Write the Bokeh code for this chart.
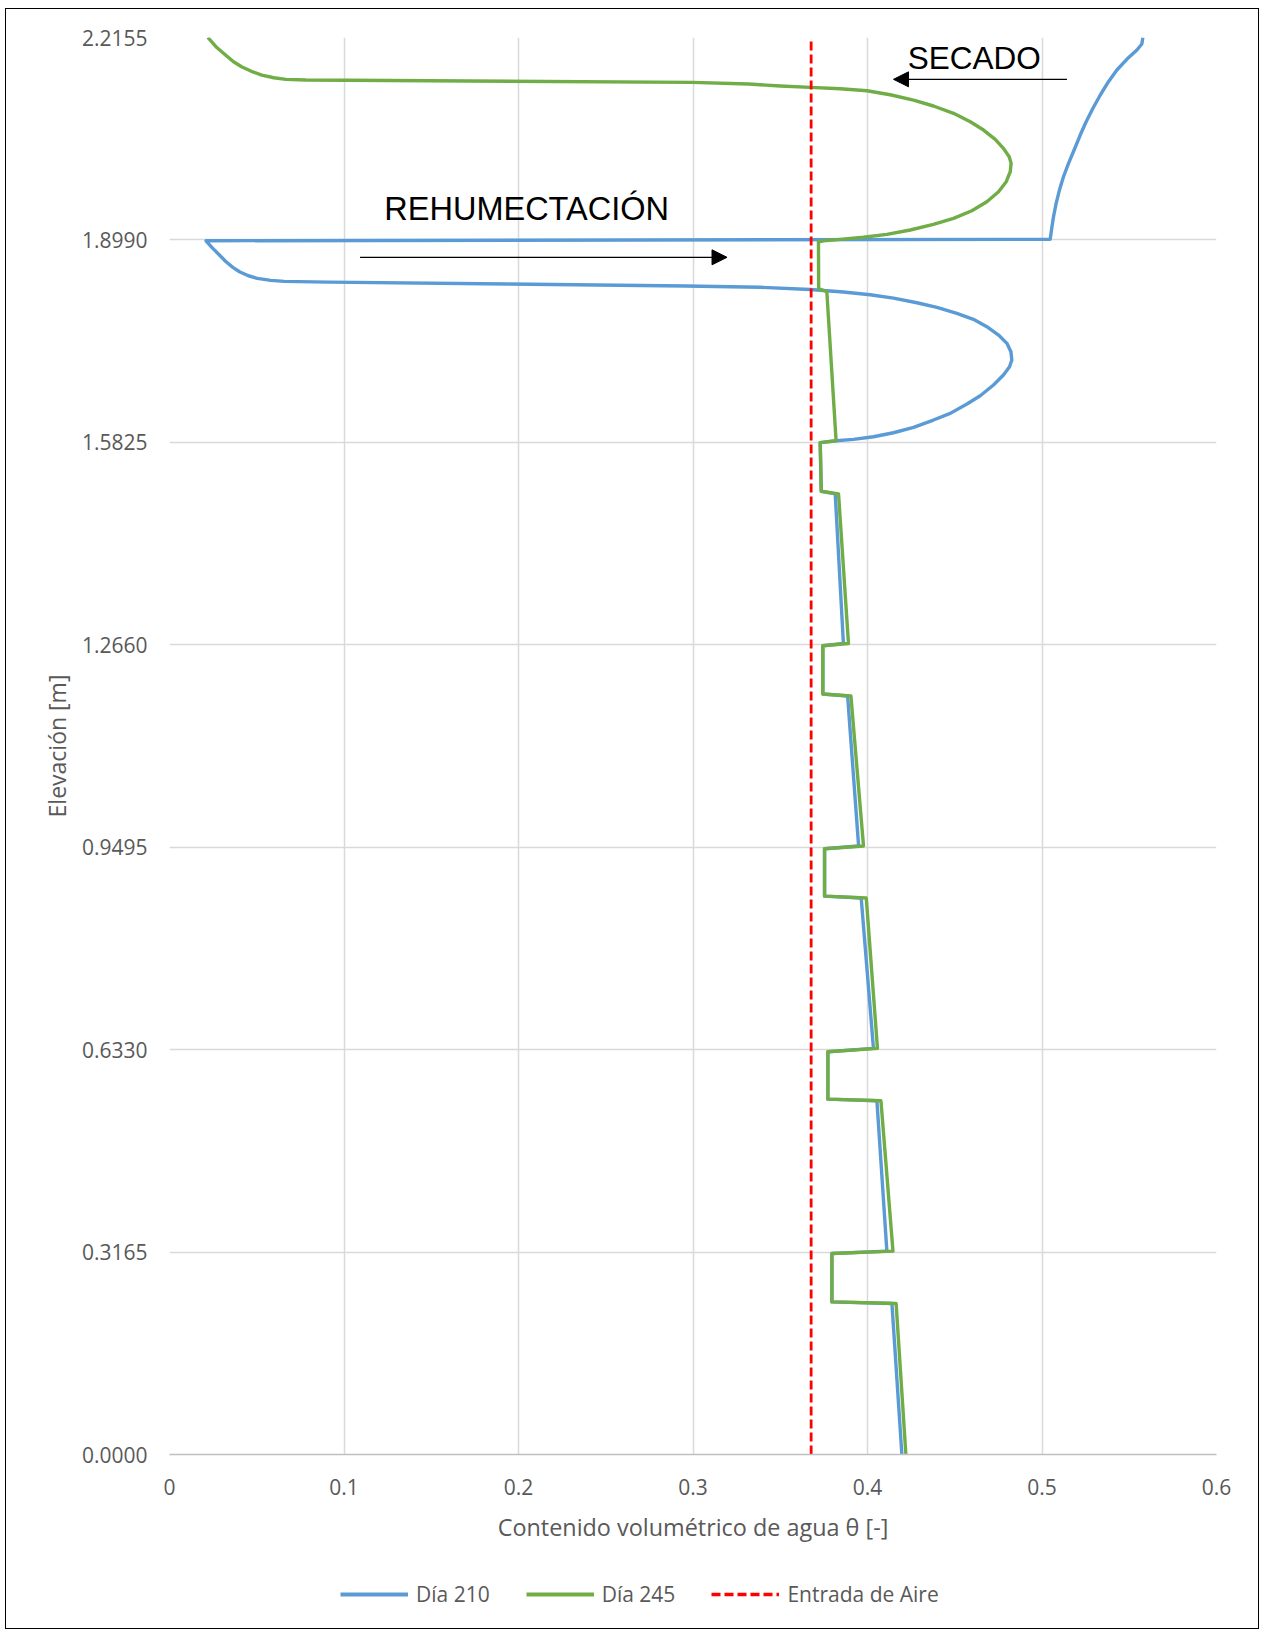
from bokeh.plotting import figure
from bokeh.models import (FixedTicker, Range1d, Legend, LegendItem, Label, Arrow,
                          NormalHead, ColumnDataSource, Column)
from bokeh.embed import file_html
from bokeh.resources import INLINE

# ---------------- data ----------------
# Día 210 (blue)
theta_210 = [0.5578, 0.5572, 0.5544, 0.5486, 0.5429, 0.5381, 0.5334, 0.5292, 0.5253, 0.5219,
             0.5184, 0.5152, 0.5123, 0.5100, 0.5081, 0.5066, 0.5057, 0.5047,
             0.0209, 0.0248, 0.0286, 0.0324, 0.0363, 0.0401, 0.0452, 0.0503, 0.0580, 0.0657,
             0.0913, 0.1935, 0.2959, 0.3385, 0.3672, 0.3862, 0.4015, 0.4149, 0.4283, 0.4398,
             0.4512, 0.4607, 0.4684, 0.4751, 0.4799, 0.4822, 0.4827, 0.4814, 0.4779, 0.4722,
             0.4646, 0.4570, 0.4474, 0.4378, 0.4264, 0.4149, 0.4034, 0.3920, 0.3821, 0.3729,
             0.3735, 0.3815, 0.3862, 0.3744, 0.3744, 0.3886, 0.3949, 0.3754, 0.3754, 0.3964, 0.4034,
             0.3773, 0.3773, 0.4054, 0.4111, 0.3796, 0.3796, 0.4140, 0.4197]
elev_210 = [2.2155, 2.2053, 2.1960, 2.1814, 2.1647, 2.1464, 2.1256, 2.1048, 2.0838, 2.0630,
            2.0396, 2.0188, 1.9978, 1.9770, 1.9562, 1.9352, 1.9196, 1.9000,
            1.8977, 1.8858, 1.8754, 1.8649, 1.8561, 1.8493, 1.8430, 1.8389, 1.8358, 1.8342,
            1.8331, 1.8300, 1.8270, 1.8249, 1.8215, 1.8175, 1.8133, 1.8081, 1.8008, 1.7936,
            1.7842, 1.7748, 1.7633, 1.7503, 1.7373, 1.7242, 1.7112, 1.7007, 1.6877, 1.6721,
            1.6554, 1.6424, 1.6278, 1.6174, 1.6059, 1.5975, 1.5913, 1.5872, 1.5850, 1.5820,
            1.5060, 1.5020, 1.2680, 1.2645, 1.1890, 1.1860, 0.9515, 0.9470, 0.8730, 0.8700, 0.6350,
            0.6296, 0.5556, 0.5530, 0.3180, 0.3143, 0.2386, 0.2360, 0.0000]

# Día 245 (green)
theta_245 = [0.0220, 0.0266, 0.0321, 0.0367, 0.0413, 0.0469, 0.0529, 0.0598, 0.0667, 0.0782,
             0.1013, 0.2996, 0.3319, 0.3500, 0.3672, 0.3844, 0.3997, 0.4130, 0.4264, 0.4378,
             0.4493, 0.4589, 0.4665, 0.4732, 0.4779, 0.4812, 0.4823, 0.4818, 0.4795, 0.4751,
             0.4684, 0.4598, 0.4493, 0.4378, 0.4245, 0.4111, 0.3977, 0.3844, 0.3748, 0.3719,
             0.3720, 0.3767, 0.3820, 0.3729,
             0.3735, 0.3834, 0.3891, 0.3744, 0.3744, 0.3905, 0.3977, 0.3754, 0.3754, 0.3993, 0.4057,
             0.3773, 0.3773, 0.4077, 0.4146, 0.3796, 0.3796, 0.4164, 0.4220]
elev_245 = [2.2155, 2.2011, 2.1881, 2.1776, 2.1698, 2.1626, 2.1568, 2.1526, 2.1501, 2.1490,
            2.1486, 2.1454, 2.1427, 2.1396, 2.1376, 2.1354, 2.1323, 2.1260, 2.1177, 2.1084,
            2.0970, 2.0838, 2.0708, 2.0563, 2.0422, 2.0291, 2.0188, 2.0056, 1.9900, 1.9744,
            1.9587, 1.9447, 1.9328, 1.9234, 1.9145, 1.9077, 1.9031, 1.8999, 1.8977, 1.8961,
            1.8230, 1.8180, 1.5850, 1.5820,
            1.5060, 1.5020, 1.2680, 1.2645, 1.1890, 1.1860, 0.9515, 0.9470, 0.8730, 0.8700, 0.6350,
            0.6296, 0.5556, 0.5530, 0.3180, 0.3143, 0.2386, 0.2360, 0.0000]

# Entrada de Aire (air entry value)
air_entry_theta = [0.3677, 0.3677]
air_entry_elev = [0.0, 2.2155]

series_names = ["Día 210", "Día 245", "Entrada de Aire"]

x_ticks = [0, 0.1, 0.2, 0.3, 0.4, 0.5, 0.6]
x_tick_labels = ["0", "0.1", "0.2", "0.3", "0.4", "0.5", "0.6"]
y_ticks = [0.0, 0.3165, 0.6330, 0.9495, 1.2660, 1.5825, 1.8990, 2.2155]
y_tick_labels = ["0.0000", "0.3165", "0.6330", "0.9495", "1.2660", "1.5825", "1.8990", "2.2155"]

# ---------------- styles ----------------
GRAY_TXT = "#595959"
FONT = "Open Sans"
BLUE, GREEN, RED = "#5B9BD5", "#70AD47", "#FF0000"
W = 1252

# ---------------- main chart ----------------
p = figure(width=W, height=1551, output_backend="svg", toolbar_location=None,
           x_range=Range1d(0, 0.6), y_range=Range1d(0, 2.2155),
           min_border_left=163, min_border_right=42, min_border_top=28, min_border_bottom=106)
p.outline_line_color = None
p.background_fill_color = "white"
p.border_fill_color = "white"

p.xaxis.ticker = FixedTicker(ticks=x_ticks)
p.yaxis.ticker = FixedTicker(ticks=y_ticks)
p.xaxis.major_label_overrides = dict(zip(x_ticks, x_tick_labels))
p.yaxis.major_label_overrides = dict(zip(y_ticks, y_tick_labels))

for ax in (p.xaxis[0], p.yaxis[0]):
    ax.major_tick_line_color = None
    ax.minor_tick_line_color = None
    ax.major_tick_out = 0
    ax.major_tick_in = 0
    ax.minor_tick_out = 0
    ax.major_label_text_font = FONT
    ax.major_label_text_font_size = "21px"
    ax.major_label_text_color = GRAY_TXT
    ax.axis_label_text_font = FONT
    ax.axis_label_text_font_style = "normal"
    ax.axis_label_text_color = GRAY_TXT

p.xaxis.axis_label_text_font_size = "23.4px"
p.yaxis.axis_label_text_font_size = "23px"
p.xaxis.axis_line_color = "#BFBFBF"
p.xaxis.axis_line_width = 1.5
p.yaxis.axis_line_color = None
p.xaxis.major_label_standoff = 24
p.yaxis.major_label_standoff = 22
p.xaxis.axis_label_standoff = 13
p.yaxis.axis_label_standoff = 6
p.xaxis.axis_label = "Contenido volumétrico de agua θ [-]"
p.yaxis.axis_label = "Elevación [m]"

p.xgrid.grid_line_color = "#D9D9D9"
p.ygrid.grid_line_color = "#D9D9D9"
p.xgrid.grid_line_width = 1.5
p.ygrid.grid_line_width = 1.5

src210 = ColumnDataSource(dict(x=theta_210, y=elev_210))
src245 = ColumnDataSource(dict(x=theta_245, y=elev_245))
srcair = ColumnDataSource(dict(x=air_entry_theta, y=air_entry_elev))

p.line("x", "y", source=src210, line_color=BLUE, line_width=3.4, line_join="round")
p.line("x", "y", source=src245, line_color=GREEN, line_width=3.4, line_join="round")
p.line("x", "y", source=srcair, line_color=RED, line_width=2.8, line_dash="9 4")

# annotations
p.add_layout(Label(x=0.1231, y=1.9470, text="REHUMECTACIÓN", text_font="Liberation Sans",
                   text_font_size="32.5px", text_color="black", text_align="left",
                   text_baseline="alphabetic"))
p.add_layout(Label(x=0.4231, y=2.1831, text="SECADO", text_font="Liberation Sans",
                   text_font_size="31.5px", text_color="black", text_align="left",
                   text_baseline="alphabetic"))
p.add_layout(Arrow(end=NormalHead(size=15, fill_color="black", line_color="black"),
                   x_start=0.1092, y_start=1.8718, x_end=0.3195, y_end=1.8718,
                   line_color="black", line_width=1.3))
p.add_layout(Arrow(end=NormalHead(size=15, fill_color="black", line_color="black"),
                   x_start=0.5143, y_start=2.1501, x_end=0.4149, y_end=2.1501,
                   line_color="black", line_width=1.3))

# ---------------- legend strip ----------------
# the series are drawn again here only as legend proxies; the ranges keep them out of view
pl = figure(width=W, height=68, output_backend="svg", toolbar_location=None,
            x_range=Range1d(5, 6), y_range=Range1d(5, 6),
            min_border_left=0, min_border_right=0, min_border_top=0, min_border_bottom=0)
pl.axis.visible = False
pl.grid.visible = False
pl.outline_line_color = None
pl.background_fill_color = "white"
pl.border_fill_color = "white"

l210 = pl.line("x", "y", source=src210, line_color=BLUE, line_width=3.8)
l245 = pl.line("x", "y", source=src245, line_color=GREEN, line_width=3.8)
lair = pl.line("x", "y", source=srcair, line_color=RED, line_width=3.4, line_dash="9 4")

legend = Legend(items=[LegendItem(label=series_names[0], renderers=[l210]),
                       LegendItem(label=series_names[1], renderers=[l245]),
                       LegendItem(label=series_names[2], renderers=[lair])],
                orientation="horizontal", location=(171, 20),
                padding=0, margin=0, spacing=36, label_standoff=8,
                glyph_width=68, glyph_height=20,
                label_text_font=FONT, label_text_font_size="21px",
                label_text_color=GRAY_TXT,
                border_line_color=None, background_fill_alpha=0)
pl.add_layout(legend)

layout = Column(children=[p, pl], spacing=0,
                styles={"border": "1.5px solid black", "margin-left": "5px", "margin-top": "8px"})

open("out.html", "w").write(file_html(layout, INLINE))
